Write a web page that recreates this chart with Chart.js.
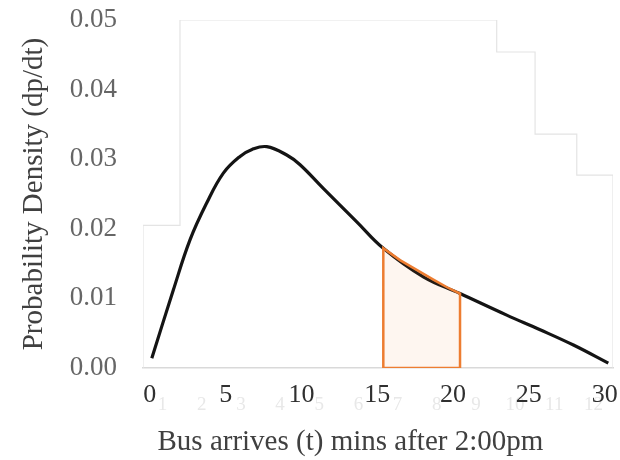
<!DOCTYPE html>
<html>
<head>
<meta charset="utf-8">
<script src="https://cdn.jsdelivr.net/npm/chart.js@4.4.1/dist/chart.umd.min.js"></script>
<style>
    html, body { margin: 0; padding: 0; background: #fff; }
    canvas { display: block; }
</style>
</head>
<body>
<canvas id="densidad" width="620" height="460"></canvas>
<script>
// density curve (minutes after 2:00pm)
var minutes = [0.13, 1.55, 2.65, 3.75, 4.85, 5.95, 6.74, 7.71, 9.03, 9.91, 11.44, 13.65, 15.40, 18.04, 20.46, 23.54, 25.74, 27.94, 30.24];
var density = [0.0014, 0.0112, 0.0184, 0.0237, 0.0280, 0.0304, 0.0314, 0.0318, 0.0306, 0.0292, 0.0258, 0.0210, 0.0172, 0.0131, 0.0107, 0.0076, 0.0055, 0.0033, 0.0007];

// shaded slice under the curve
var shadeMinutes = [15.4, 16.5, 17.6, 18.7, 19.6, 20.46];
var shadeDensity = [0.0172, 0.0155, 0.0141, 0.0127, 0.0116, 0.0107];

// faint stepped outline in the background
var stepMinutes = [-0.45, -0.45, 1.99, 22.88, 25.41, 28.16, 30.55];
var stepDensity = [0, 0.0205, 0.05, 0.0454, 0.0336, 0.0277, 0];

// faint bin labels under the axis
var binLabels = ['1', '2', '3', '4', '5', '6', '7', '8', '9', '10', '11', '12'];

var xTicks = [0, 5, 10, 15, 20, 25, 30];
var yTicks = [0, 0.01, 0.02, 0.03, 0.04, 0.05];

function toPoints(xs, ys) {
    return xs.map(function (x, i) { return { x: x, y: ys[i] }; });
}

// closed outline of the shaded slice
var shadeOutline = [{ x: shadeMinutes[0], y: 0 }]
    .concat(toPoints(shadeMinutes, shadeDensity))
    .concat([{ x: shadeMinutes[shadeMinutes.length - 1], y: 0 }, { x: shadeMinutes[0], y: 0 }]);

var serif = '"Liberation Serif", "DejaVu Serif", serif';

var ghostLabels = {
    id: 'ghostLabels',
    beforeDraw: function (chart) {
        var s = chart.scales.bins;
        var ctx = chart.ctx;
        ctx.save();
        ctx.font = '19px ' + serif;
        ctx.fillStyle = '#e8e8e8';
        ctx.textAlign = 'center';
        ctx.textBaseline = 'middle';
        binLabels.forEach(function (lab, i) {
            ctx.fillText(lab, s.getPixelForValue(i), chart.chartArea.bottom + 37);
        });
        ctx.restore();
    }
};

var ctx = document.getElementById('densidad').getContext('2d');
var grafico = new Chart(ctx, {
    type: 'line',
    data: {
        datasets: [
            {
                label: 'shade outline',
                data: shadeOutline,
                xAxisID: 'x',
                borderColor: '#ED7D31',
                borderWidth: 2.5,
                tension: 0,
                fill: false,
                pointRadius: 0
            },
            {
                label: 'shade',
                data: toPoints(shadeMinutes, shadeDensity),
                xAxisID: 'x',
                borderWidth: 0,
                backgroundColor: 'rgba(237, 125, 49, 0.07)',
                fill: 'origin',
                tension: 0,
                pointRadius: 0
            },
            {
                label: 'density',
                data: toPoints(minutes, density),
                xAxisID: 'x',
                borderColor: '#141414',
                borderWidth: 3.2,
                tension: 0.4,
                fill: false,
                pointRadius: 0
            },
            {
                label: 'steps',
                data: toPoints(stepMinutes, stepDensity),
                xAxisID: 'x',
                borderColor: '#e4e4e4',
                borderWidth: 1.2,
                stepped: true,
                fill: false,
                pointRadius: 0
            }
        ]
    },
    options: {
        responsive: false,
        animation: false,
        layout: { padding: { top: 20, right: 7, left: 0, bottom: 0 } },
        plugins: {
            legend: { display: false },
            tooltip: { enabled: false }
        },
        scales: {
            x: {
                type: 'linear',
                position: 'bottom',
                min: -0.45,
                max: 30.55,
                afterBuildTicks: function (scale) {
                    scale.ticks = xTicks.map(function (v) { return { value: v }; });
                },
                afterFit: function (scale) { scale.height = 92; },
                grid: { display: false, drawTicks: true, tickLength: 12 },
                border: { display: true, color: '#d9d9d9', width: 1.5 },
                ticks: {
                    padding: 0,
                    color: '#303030',
                    font: { family: serif, size: 26 },
                    maxRotation: 0
                },
                title: {
                    display: true,
                    align: 'start',
                    text: '  Bus arrives (t) mins after 2:00pm',
                    color: '#404040',
                    font: { family: serif, size: 29 },
                    padding: { top: 0, bottom: 0 }
                }
            },
            bins: {
                type: 'category',
                axis: 'x',
                position: 'bottom',
                labels: binLabels,
                offset: true,
                display: false
            },
            y: {
                min: 0,
                max: 0.05,
                afterBuildTicks: function (scale) {
                    scale.ticks = yTicks.map(function (v) { return { value: v }; });
                },
                afterFit: function (scale) { scale.width = 143; },
                grid: { display: false, drawTicks: true, tickLength: 26 },
                border: { display: false },
                ticks: {
                    padding: 0,
                    color: '#666666',
                    font: { family: serif, size: 27 },
                    callback: function (v) { return Number(v).toFixed(2); }
                },
                title: {
                    display: true,
                    text: 'Probability Density (dp/dt)',
                    color: '#404040',
                    font: { family: serif, size: 29 },
                    padding: { top: 17, bottom: 0 }
                }
            }
        }
    },
    plugins: [ghostLabels]
});
</script>
</body>
</html>
